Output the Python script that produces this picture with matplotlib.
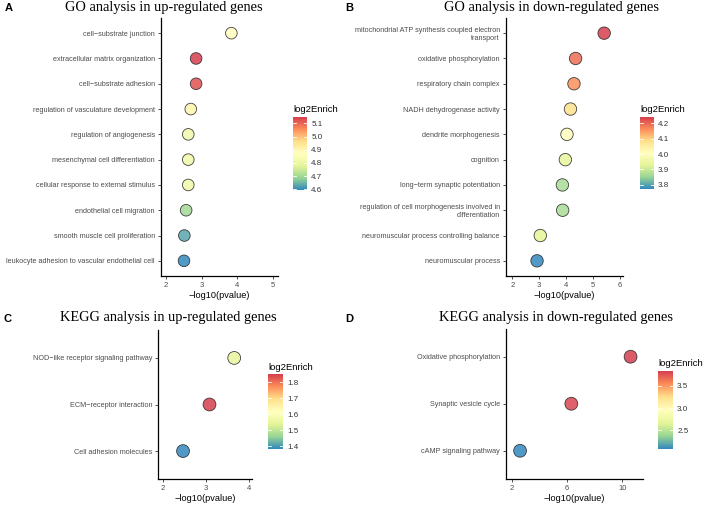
import matplotlib
matplotlib.use("Agg")
import matplotlib.pyplot as plt
from matplotlib.colors import LinearSegmentedColormap, Normalize
import matplotlib.cm as cm

# ---- data ----
go_up_terms = ["cell−substrate junction", "extracellular matrix organization", "cell−substrate adhesion",
               "regulation of vasculature development", "regulation of angiogenesis",
               "mesenchymal cell differentiation", "cellular response to external stimulus",
               "endothelial cell migration", "smooth muscle cell proliferation",
               "leukocyte adhesion to vascular endothelial cell"]
go_up_p = [3.83, 2.84, 2.84, 2.69, 2.62, 2.62, 2.62, 2.56, 2.51, 2.50]
go_up_enrich = [4.88, 5.148, 5.12, 4.90, 4.82, 4.82, 4.82, 4.70, 4.63, 4.595]

go_down_terms = ["mitochondrial ATP synthesis coupled electron\ntransport", "oxidative phosphorylation",
                 "respiratory chain complex", "NADH dehydrogenase activity", "dendrite morphogenesis",
                 "cognition", "long−term synaptic potentiation",
                 "regulation of cell morphogenesis involved in\ndifferentiation",
                 "neuromuscular process controlling balance", "neuromuscular process"]
go_down_p = [5.41, 4.35, 4.29, 4.16, 4.03, 3.97, 3.86, 3.87, 3.04, 2.92]
go_down_enrich = [4.239, 4.19, 4.16, 4.08, 4.01, 3.94, 3.87, 3.87, 3.93, 3.774]

kegg_up_terms = ["NOD−like receptor signaling pathway", "ECM−receptor interaction", "Cell adhesion molecules"]
kegg_up_p = [3.65, 3.08, 2.47]
kegg_up_enrich = [1.55, 1.85, 1.384]

kegg_down_terms = ["Oxidative phosphorylation", "Synaptic vesicle cycle", "cAMP signaling pathway"]
kegg_down_p = [10.6, 6.31, 2.60]
kegg_down_enrich = [3.836, 3.80, 2.083]

W, H = 708, 507
fig = plt.figure(figsize=(W / 100, H / 100), dpi=100)

spectral = LinearSegmentedColormap.from_list(
    "spec", ["#3288BD", "#99D594", "#E6F598", "#FFFFBF", "#FEE08B", "#FC8D59", "#D53E4F"])


def box(x0, y0, x1, y1):
    # pixel box (top-left origin) -> figure fraction rect
    return [x0 / W, 1 - y1 / H, (x1 - x0) / W, (y1 - y0) / H]


def panel(rect, cbrect, terms, pv, enr, xlim, xticks, cbticks, msize):
    ax = fig.add_axes(box(*rect))
    n = len(terms)
    ypos = list(range(n - 1, -1, -1))
    norm = Normalize(min(enr), max(enr))
    ax.scatter(pv, ypos, c=enr, cmap=spectral, norm=norm, s=msize, alpha=0.85,
               edgecolors="#222222", linewidths=0.6, zorder=3)
    ax.set_yticks(ypos)
    ax.set_yticklabels(terms, fontsize=5.25, color="#4D4D4D", family="Liberation Sans")
    ax.set_ylim(-0.6, n - 0.4)
    ax.set_xlim(*xlim)
    ax.set_xticks(xticks)
    ax.set_xticklabels([str(t) for t in xticks], fontsize=5.5, color="#4D4D4D", family="Liberation Sans")
    ax.set_xlabel("−log10(pvalue)", fontsize=6.6, family="Liberation Sans", labelpad=1.5)
    for s in ["top", "right"]:
        ax.spines[s].set_visible(False)
    for s in ["left", "bottom"]:
        ax.spines[s].set_linewidth(0.9)
    ax.tick_params(length=2.5, width=0.6, color="#333333", pad=1.5)
    ax.set_facecolor("none")

    cax = fig.add_axes(box(*cbrect))
    cb = fig.colorbar(cm.ScalarMappable(norm=norm, cmap=spectral), cax=cax, ticks=cbticks)
    cb.outline.set_visible(False)
    cb.set_ticklabels(["%.1f" % t for t in cbticks])
    cax.tick_params(length=0, labelsize=5.8, pad=3, labelcolor="#333333")
    for t in cbticks:
        cax.axhline(t, xmin=0, xmax=0.2, color="white", lw=0.6)
        cax.axhline(t, xmin=0.8, xmax=1, color="white", lw=0.6)
    for lab in cax.get_yticklabels():
        lab.set_family("Liberation Sans")
    fig.text(cbrect[0] / W, 1 - (cbrect[1] - 7) / H, "log2Enrich", fontsize=6.8,
             family="Liberation Sans", ha="left", va="center")
    return ax


panel((160.5, 18, 278, 276), (293, 117, 307, 190), go_up_terms, go_up_p, go_up_enrich,
      (1.84, 5.14), [2, 3, 4, 5], [4.6, 4.7, 4.8, 4.9, 5.0, 5.1], 70)
panel((505.5, 18, 623.3, 276), (640, 117, 654, 189), go_down_terms, go_down_p, go_down_enrich,
      (1.75, 6.12), [2, 3, 4, 5, 6], [3.8, 3.9, 4.0, 4.1, 4.2], 80)
panel((158.3, 330, 252, 479), (268, 374, 283, 449), kegg_up_terms, kegg_up_p, kegg_up_enrich,
      (1.90, 4.06), [2, 3, 4], [1.4, 1.5, 1.6, 1.7, 1.8], 85)
panel((505.7, 328.5, 643, 479), (658, 371, 673, 449), kegg_down_terms, kegg_down_p, kegg_down_enrich,
      (1.56, 11.5), [2, 6, 10], [2.5, 3.0, 3.5], 85)

# titles and panel letters
titles = [(164, 8, "GO analysis in up-regulated genes"),
          (551.5, 8, "GO analysis in down-regulated genes"),
          (168, 317, "KEGG analysis in up-regulated genes"),
          (556, 317, "KEGG analysis in down-regulated genes")]
for x, y, t in titles:
    fig.text(x / W, 1 - y / H, t, fontsize=10.4, family="Liberation Serif",
             ha="center", va="center")
for x, y, t in [(8.5, 8, "A"), (349, 8, "B"), (7.5, 319, "C"), (349, 319, "D")]:
    fig.text(x / W, 1 - y / H, t, fontsize=8, family="Liberation Sans", weight="bold",
             ha="center", va="center")

fig.savefig("out.png", dpi=100)
